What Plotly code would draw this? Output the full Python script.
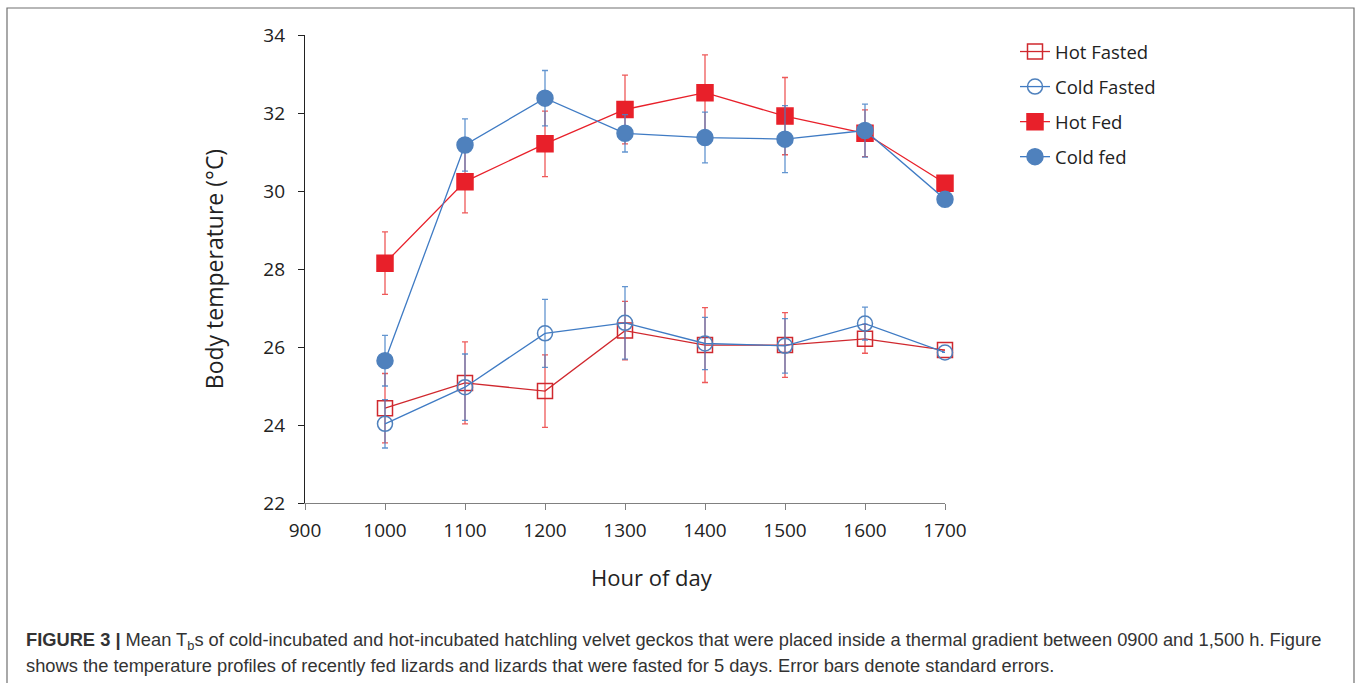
import plotly.graph_objects as go

hours = [1000, 1100, 1200, 1300, 1400, 1500, 1600, 1700]

hot_fasted = [24.43, 25.08, 24.87, 26.42, 26.05, 26.05, 26.21, 25.92]
hot_fasted_se = [0.89, 1.05, 0.93, 0.75, 0.96, 0.83, 0.37, 0.0]

cold_fasted = [24.03, 24.97, 26.35, 26.62, 26.09, 26.03, 26.60, 25.86]
cold_fasted_se = [0.62, 0.85, 0.87, 0.93, 0.67, 0.70, 0.42, 0.0]

hot_fed = [28.15, 30.24, 31.21, 32.09, 32.52, 31.92, 31.48, 30.20]
hot_fed_se = [0.80, 0.80, 0.84, 0.88, 0.97, 0.99, 0.60, 0.0]

cold_fed = [25.65, 31.18, 32.38, 31.48, 31.37, 31.33, 31.55, 29.79]
cold_fed_se = [0.65, 0.67, 0.71, 0.48, 0.65, 0.86, 0.68, 0.0]

x_ticks = [900, 1000, 1100, 1200, 1300, 1400, 1500, 1600, 1700]
y_ticks = [22, 24, 26, 28, 30, 32, 34]

RED = "#E8202A"
RED_DARK = "#D0282E"
BLUE = "#4F81BD"
BLUE_LINE = "#3F7BC4"

W, H = 1357, 683
L, R, T, B = 305, 412, 35, 180
PW, PH = W - L - R, H - T - B


def px(xp):
    return (xp - L) / PW


def py(yp):
    return (H - B - yp) / PH


fig = go.Figure()

series = [
    ("Hot Fasted", hot_fasted, hot_fasted_se, "square-open", RED_DARK, RED_DARK, "rgba(235,60,60,0.85)", 15),
    ("Cold Fasted", cold_fasted, cold_fasted_se, "circle-open", BLUE, BLUE_LINE, "rgba(70,130,200,0.85)", 15),
    ("Hot Fed", hot_fed, hot_fed_se, "square", RED, RED, "rgba(235,60,60,0.85)", 16),
    ("Cold fed", cold_fed, cold_fed_se, "circle", BLUE, BLUE_LINE, "rgba(70,130,200,0.85)", 16),
]

for name, vals, se, sym, mcol, lcol, ecol, size in series:
    fig.add_trace(go.Scatter(
        x=hours, y=vals, name=name, mode="lines+markers", legendgroup=name,
        line=dict(color=lcol, width=1.3),
        marker=dict(symbol=sym, size=size, color=mcol,
                    line=dict(color=mcol, width=1.5)),
        error_y=dict(type="data", array=se, visible=True, color=ecol,
                     thickness=1.3, width=3),
        cliponaxis=False,
    ))

FONT = "Open Sans, sans-serif"
TICKFONT = dict(family=FONT, size=19, color="#222")

fig.update_layout(
    width=W, height=H, autosize=False,
    margin=dict(l=L, r=R, t=T, b=B),
    plot_bgcolor="white", paper_bgcolor="white",
    showlegend=True,
    legend=dict(x=px(1015), y=py(33), xanchor="left", yanchor="top",
                font=dict(family=FONT, size=18.5, color="#222"),
                itemwidth=30, bgcolor="rgba(0,0,0,0)", tracegroupgap=8),
    xaxis=dict(range=[900, 1700], tickvals=x_ticks, ticktext=[str(v) for v in x_ticks],
               ticks="outside", ticklen=6, tickcolor="#808080", showline=True,
               linecolor="#808080", linewidth=1.2, showgrid=False, zeroline=False,
               tickfont=TICKFONT, ticklabelstandoff=4),
    yaxis=dict(range=[22, 34], tickvals=y_ticks, ticktext=[str(v) for v in y_ticks],
               ticks="outside", ticklen=6, tickcolor="#222", showline=True,
               linecolor="#222", linewidth=1.2, showgrid=False, zeroline=False,
               tickfont=TICKFONT, ticklabelstandoff=9,
               title=dict(text="Body temperature (°C)", standoff=33,
                          font=dict(family=FONT, size=23, color="#222"))),
)

# x-axis title (centred as in the reference, right of the plot-area centre)
fig.add_annotation(xref="paper", yref="paper", x=px(652), y=py(577), xanchor="center", yanchor="middle",
                   showarrow=False, text="Hour of day", font=dict(family=FONT, size=22, color="#222"))

# outer frame
fig.add_shape(type="rect", xref="paper", yref="paper",
              x0=px(7), x1=px(1354), y0=py(700), y1=py(8),
              line=dict(color="#707070", width=1.2), fillcolor="rgba(0,0,0,0)", layer="below")

CAP = dict(family="Liberation Sans, Arial, sans-serif", size=18.3, color="#333")
fig.add_annotation(xref="paper", yref="paper", x=px(24), y=py(641), xanchor="left", yanchor="middle",
                   showarrow=False, font=CAP, align="left",
                   text="<b>FIGURE 3 |</b> Mean T<sub>b</sub>s of cold-incubated and hot-incubated hatchling velvet geckos that were placed inside a thermal gradient between 0900 and 1,500 h. Figure")
fig.add_annotation(xref="paper", yref="paper", x=px(24), y=py(665), xanchor="left", yanchor="middle",
                   showarrow=False, font=CAP, align="left",
                   text="shows the temperature profiles of recently fed lizards and lizards that were fasted for 5 days. Error bars denote standard errors.")

fig.write_html("out.html", config={"displayModeBar": False},
               post_script="document.body.style.margin='0';")
